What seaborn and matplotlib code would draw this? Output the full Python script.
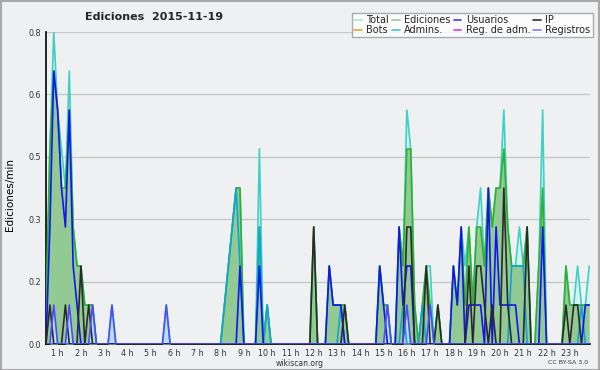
import numpy as np
import pandas as pd
import seaborn as sns
import matplotlib
matplotlib.use("Agg")
import matplotlib.pyplot as plt
from matplotlib.patches import Rectangle
from matplotlib.lines import Line2D

# 10-minute bins starting at 00:30 (index 0) up to 23:50 (index 140)
N = 141
start_hour = 0.5

def series(pairs):
    v = [0.0] * N
    for k, val in pairs.items():
        v[k] = val
    return v

total = series({0: 0, 1: 0.5, 2: 0.8, 3: 0.6, 4: 0.5, 5: 0.4, 6: 0.7, 7: 0.3, 8: 0.2, 9: 0.2,
                10: 0.1, 11: 0.1, 12: 0.1, 17: 0.1, 31: 0.1,
                46: 0.1, 47: 0.2, 48: 0.3, 49: 0.4, 50: 0.4, 55: 0.5, 57: 0.1,
                69: 0.3, 73: 0.2, 74: 0.1, 75: 0.1, 76: 0.1, 77: 0.1,
                86: 0.2, 87: 0.1, 88: 0.1, 91: 0.3, 92: 0.2, 93: 0.6, 94: 0.5, 95: 0.1,
                97: 0.1, 98: 0.2, 99: 0.2, 101: 0.1,
                105: 0.2, 106: 0.1, 107: 0.3, 108: 0.2, 109: 0.3, 110: 0.1, 111: 0.3, 112: 0.4,
                113: 0.2, 114: 0.4, 115: 0.3, 116: 0.4, 117: 0.4, 118: 0.6, 119: 0.3, 120: 0.2,
                121: 0.2, 122: 0.3, 123: 0.2, 124: 0.3, 127: 0.2, 128: 0.6,
                134: 0.2, 135: 0.1, 136: 0.1, 137: 0.2, 138: 0.1, 139: 0.1, 140: 0.2})

ediciones = series({0: 0.1, 1: 0.5, 2: 0.7, 3: 0.6, 4: 0.4, 5: 0.4, 6: 0.6, 7: 0.3, 8: 0.2, 9: 0.2,
                    10: 0.1, 11: 0.1, 12: 0.1,
                    46: 0.1, 47: 0.2, 48: 0.3, 49: 0.4, 50: 0.4, 55: 0.3, 57: 0.1,
                    69: 0.3, 73: 0.2, 74: 0.1, 75: 0.1, 76: 0.1, 77: 0.1,
                    86: 0.2, 87: 0.1, 88: 0.1, 91: 0.3, 92: 0.2, 93: 0.5, 94: 0.5, 95: 0.1,
                    97: 0.1, 98: 0.2, 99: 0.1, 101: 0.1,
                    105: 0.2, 106: 0.1, 107: 0.3, 108: 0.1, 109: 0.3, 110: 0.1, 111: 0.3, 112: 0.3,
                    113: 0.2, 114: 0.4, 115: 0.3, 116: 0.4, 117: 0.4, 118: 0.5, 119: 0.3, 120: 0.2,
                    121: 0.2, 122: 0.2, 123: 0.2, 124: 0.3, 127: 0.2, 128: 0.4,
                    134: 0.2, 135: 0.1, 136: 0.1, 137: 0.1, 138: 0.1, 139: 0.1, 140: 0.1})

usuarios = series({1: 0.3, 2: 0.7, 3: 0.6, 4: 0.4, 5: 0.3, 6: 0.6, 7: 0.2, 8: 0.1,
                   50: 0.2, 55: 0.2, 73: 0.2, 74: 0.1, 75: 0.1, 76: 0.1,
                   86: 0.2, 87: 0.1, 91: 0.3, 92: 0.1, 93: 0.2, 94: 0.2,
                   105: 0.2, 106: 0.1, 107: 0.3, 109: 0.1, 110: 0.1, 111: 0.1, 112: 0.1,
                   114: 0.4, 116: 0.3, 117: 0.1, 118: 0.1, 119: 0.1, 120: 0.1, 121: 0.1,
                   128: 0.3, 139: 0.1, 140: 0.1})

ip = series({1: 0.1, 5: 0.1, 9: 0.2, 11: 0.1, 69: 0.3, 77: 0.1, 93: 0.3, 94: 0.3,
             98: 0.2, 101: 0.1, 109: 0.2, 111: 0.2, 112: 0.2, 113: 0.1, 115: 0.1,
             118: 0.4, 119: 0.1, 124: 0.3, 134: 0.1, 136: 0.1, 137: 0.1})

bots = series({})
admins = series({46: 0.1, 47: 0.2, 48: 0.3, 49: 0.4, 50: 0.2, 55: 0.3, 57: 0.1, 76: 0.1,
                 92: 0.1, 97: 0.1, 120: 0.2, 121: 0.2, 122: 0.2, 123: 0.2, 138: 0.1})
reg_adm = series({})
registros = series({2: 0.1, 6: 0.1, 12: 0.1, 17: 0.1, 31: 0.1, 88: 0.1, 93: 0.1, 99: 0.1})

hour_labels = [f"{h} h" for h in range(1, 24)]
y_ticks = [0.0, 0.16, 0.32, 0.48, 0.64, 0.8]
y_labels = ["0.0", "0.2", "0.3", "0.5", "0.6", "0.8"]

hours = [start_hour + k / 6 for k in range(N)]
df = pd.DataFrame({"hora": hours, "Total": total, "Ediciones": ediciones,
                   "Usuarios": usuarios, "IP": ip, "Bots": bots, "Admins.": admins,
                   "Reg. de adm.": reg_adm, "Registros": registros})

sns.set_theme(style="white")
plt.rcParams["font.family"] = ["DejaVu Sans"]

BG = "#eef0f2"
fig = plt.figure(figsize=(6, 3.7), dpi=100, facecolor=BG)
ax = fig.add_axes([46 / 600, 1 - 344 / 370, 544 / 600, 312 / 370])
ax.set_facecolor(BG)

line_colors = {"Total": "#3ed0c4", "Ediciones": "#30b030", "Usuarios": "#1414f0",
               "IP": "#2a2a2a", "Bots": "#f0a040", "Admins.": "#10a4d4",
               "Reg. de adm.": "#d040d0", "Registros": "#4a4aff"}
legend_colors = {"Total": "#a8e8e0", "Ediciones": "#90d090", "Usuarios": "#4040d8",
                 "IP": "#303030", "Bots": "#f0a040", "Admins.": "#40c8d8",
                 "Reg. de adm.": "#d040d0", "Registros": "#8080f0"}

ax.fill_between(df["hora"], df["Total"], color="#d6f2ee", lw=0, zorder=1)
ax.fill_between(df["hora"], df["Ediciones"], color="#93c993", lw=0, zorder=2)
ax.fill_between(df["hora"], df["Registros"], color="#bcdcea", lw=0, zorder=3)

order = ["Bots", "Reg. de adm.", "Total", "Ediciones", "Admins.", "Usuarios", "IP", "Registros"]
for z, name in enumerate(order):
    sns.lineplot(data=df, x="hora", y=name, ax=ax, color=line_colors[name],
                 lw=1.2, zorder=4 + z, legend=False)

ax.set_xlim(start_hour, start_hour + 140.2 / 6)
ax.set_ylim(0, 0.8)
ax.set_yticks(y_ticks)
ax.set_yticklabels(y_labels)
ax.set_yticks(np.arange(0, 0.81, 0.04), minor=True)
ax.set_xticks(range(1, 24))
ax.set_xticklabels(hour_labels)
ax.set_xticks(np.arange(start_hour, 23.9, 1 / 6), minor=True)
ax.tick_params(axis="both", which="both", direction="out", length=3, width=1,
               color="black", labelsize=5.8, labelcolor="#333333", pad=0.5)
ax.grid(axis="y", color="#c8c8c8", lw=1)
ax.set_axisbelow(True)
for s in ["top", "right"]:
    ax.spines[s].set_visible(False)
for s in ["left", "bottom"]:
    ax.spines[s].set_color("black")
    ax.spines[s].set_linewidth(1.2)
ax.set_xlabel("")
ax.set_ylabel("")
fig.text(10 / 600, 1 - 195 / 370, "Ediciones/min", fontsize=7.5, rotation=90,
         ha="center", va="center", color="black")

fig.text(154 / 600, 1 - 17 / 370, "Ediciones  2015-11-19", fontsize=8,
         fontweight="bold", ha="center", va="center")
fig.text(300 / 600, 1 - 363 / 370, "wikiscan.org", fontsize=5.5, ha="center",
         va="center", color="#333333")
fig.text(568 / 600, 1 - 362.5 / 370, "CC BY-SA 3.0", fontsize=4.5, ha="center",
         va="center", color="#333333")

leg_order = ["Total", "Bots", "Ediciones", "Admins.", "Usuarios", "Reg. de adm.", "IP", "Registros"]
handles = [Line2D([0], [0], color=legend_colors[n], lw=1.2) for n in leg_order]
leg = fig.legend(handles, leg_order, ncol=4, loc="upper right",
                 bbox_to_anchor=(593 / 600, 1 - 12.5 / 370), borderaxespad=0,
                 fontsize=7, frameon=True, fancybox=False, handlelength=0.8,
                 handletextpad=0.45, columnspacing=0.3, labelspacing=0.0, borderpad=0.25)
leg.get_frame().set_edgecolor("#999999")
leg.get_frame().set_facecolor("white")
leg.get_frame().set_linewidth(1)

fig.patches.append(Rectangle((0.5 / 600, 0.5 / 370), 598.5 / 600, 368.5 / 370,
                             transform=fig.transFigure, fill=False,
                             edgecolor="#a8a8a8", lw=1.5))

fig.savefig("out.png", dpi=100, facecolor=BG)
